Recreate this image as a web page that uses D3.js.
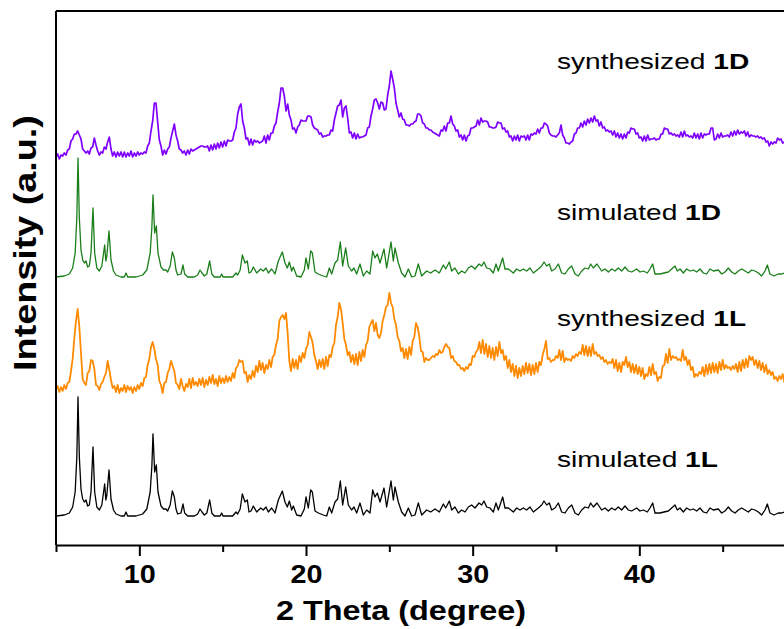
<!DOCTYPE html>
<html>
<head>
<meta charset="utf-8">
<script src="https://cdn.jsdelivr.net/npm/d3@7/dist/d3.min.js"></script>
<style>
  html, body { margin: 0; padding: 0; background: #fff; }
  svg { display: block; font-family: "Liberation Sans", Arial, sans-serif; }
</style>
</head>
<body>
<div id="chart"></div>
<script>
// simulated pattern (same for 1D and 1L): [2theta, intensity above own baseline]
const simulated = [
  [5.0,1],[5.5,2],[5.8,4],[6.0,10],[6.15,25],[6.25,60],[6.32,120],[6.4,60],[6.5,28],[6.6,18],[6.7,15],[6.8,17],[6.9,11],
  [7.0,12],[7.1,25],[7.22,70],[7.32,25],[7.45,10],[7.6,7],[7.75,12],[7.92,33],[7.99,17],[8.05,22],[8.18,47],[8.3,18],
  [8.45,7],[8.6,3],[8.9,1],[9.1,1],[9.2,5],[9.3,1],[9.8,1],[10.2,3],[10.45,8],[10.65,25],[10.75,50],[10.82,83],[10.92,45],
  [11.02,52],[11.12,25],[11.3,11],[11.45,8],[11.6,8],[11.7,6],[11.85,12],[11.98,26],[12.1,20],[12.2,8],[12.3,3],[12.5,4],
  [12.62,13],[12.72,4],[12.9,1],[13.3,1],[13.5,3],[13.64,8],[13.76,5],[13.9,2],[14.05,4],[14.22,17],[14.35,4],[14.5,1],
  [14.85,1],[14.94,4],[15.02,1],[15.6,1],[15.8,5],[15.9,3],[16.05,8],[16.18,23],[16.34,15],[16.48,17],[16.58,5],[16.7,6],
  [16.84,11],[17.04,5],[17.28,9],[17.44,7],[17.6,10],[17.74,5],[17.94,9],[18.14,4],[18.34,17],[18.58,26],[18.74,15],
  [18.88,10],[19.0,16],[19.14,7],[19.24,11],[19.44,2],[19.7,1],[19.9,8],[20.0,20],[20.14,9],[20.28,27],[20.38,25],
  [20.54,6],[20.74,4],[21.04,2],[21.24,1],[21.4,10],[21.54,4],[21.74,15],[21.9,18],[22.06,36],[22.2,12],[22.38,30],
  [22.54,12],[22.74,7],[22.88,10],[23.04,4],[23.24,14],[23.44,2],[23.64,7],[23.84,4],[24.0,27],[24.14,20],[24.28,24],
  [24.44,15],[24.68,29],[24.84,10],[25.1,36],[25.24,17],[25.34,30],[25.54,15],[25.74,5],[25.94,1],[26.14,9],[26.34,1],
  [26.54,2],[26.74,14],[26.94,2],[27.24,7],[27.48,5],[27.74,8],[28.0,5],[28.24,13],[28.38,9],[28.6,16],[28.74,7],
  [28.94,10],[29.14,4],[29.34,7],[29.54,5],[29.74,10],[29.94,12],[30.14,9],[30.38,14],[30.54,12],[30.68,16],[30.84,10],
  [31.04,9],[31.24,5],[31.4,14],[31.54,7],[31.8,20],[31.94,9],[32.14,9],[32.44,5],[32.64,9],[32.84,7],[33.04,9],
  [33.24,7],[33.44,10],[33.64,5],[33.94,9],[34.14,12],[34.28,16],[34.44,12],[34.6,14],[34.74,7],[34.94,9],[35.14,14],
  [35.34,5],[35.54,4],[35.74,9],[35.94,12],[36.14,4],[36.34,2],[36.54,7],[36.74,10],[36.94,9],[37.08,14],[37.24,10],
  [37.46,14],[37.74,7],[37.94,9],[38.14,6],[38.34,9],[38.54,7],[38.74,10],[38.94,7],[39.14,11],[39.34,7],[39.54,6],
  [39.84,9],[40.04,6],[40.24,7],[40.48,5],[40.64,9],[40.8,14],[40.94,4],[41.24,4],[41.48,5],[41.74,6],[41.94,9],
  [42.14,12],[42.28,7],[42.44,9],[42.64,5],[42.84,9],[43.04,7],[43.24,8],[43.44,6],[43.64,9],[43.84,5],[44.04,4],
  [44.24,9],[44.44,7],[44.74,8],[44.94,4],[45.14,6],[45.34,10],[45.54,6],[45.74,4],[45.94,7],[46.14,9],[46.34,7],
  [46.54,5],[46.74,8],[46.94,7],[47.14,5],[47.34,2],[47.54,7],[47.68,13],[47.84,4],[48.08,2],[48.34,4],[48.54,4],
  [48.74,5],[49.0,4],[49.4,6],[50.0,4]
];

// measured patterns, one value every 0.1 degree starting at 5.0
const expStart = 5.0;
const expStep = 0.1;
const synth1L = [
  5,9,3,8,4,10,6,12,13,24, 36,57,74,86,68,42,16,12,10,22, 24,35,34,26,10,9,5,11,13,18,
  22,34,25,15,7,9,3,10,2,7, 4,10,3,9,5,8,2,8,4,10, 6,12,9,17,18,30,36,48,53,46,
  36,30,14,10,2,12,13,22,26,34, 29,24,12,10,6,16,9,4,11,8, 16,7,17,10,13,9,16,10,17,8,
  15,10,18,12,20,11,16,9,19,12, 17,12,19,13,18,14,22,17,27,29, 35,33,34,22,23,13,20,16,24,18,
  29,23,34,25,32,22,30,26,35,28, 38,40,50,56,74,78,80,76,82,62, 34,24,36,27,35,26,39,33,42,37,
  46,50,63,58,52,40,34,26,35,28, 36,26,38,29,40,38,48,52,70,78, 92,86,72,56,50,40,43,33,40,31,
  41,30,43,34,45,38,50,54,68,72, 75,64,72,60,57,62,74,80,88,90, 102,92,88,76,70,58,54,44,47,37,
  46,36,48,40,54,58,72,68,58,44, 43,33,37,35,35,37,39,38,41,40, 45,42,43,48,51,48,47,37,39,34,
  33,30,30,26,27,24,28,26,31,30, 39,38,43,45,53,42,55,41,51,38, 49,37,47,35,48,39,53,42,45,35,
  39,27,35,23,31,19,29,17,27,19, 29,21,32,22,31,20,30,21,32,23, 33,30,40,46,54,36,37,33,35,35,
  39,37,45,35,44,33,37,35,36,34, 39,37,41,39,43,41,50,40,49,39, 48,39,51,41,43,39,40,36,38,33,
  35,31,33,32,36,27,35,24,32,23, 33,30,38,28,33,23,31,22,30,21, 28,19,27,16,21,19,28,20,31,21,
  23,14,18,17,29,30,41,32,46,35, 39,37,38,35,36,34,45,35,38,30, 35,25,28,18,21,19,23,21,28,19,
  30,21,31,22,32,23,31,22,33,25, 35,26,30,27,28,25,29,26,31,23, 33,24,35,27,36,28,39,35,38,30,
  35,27,34,25,32,23,30,21,25,20, 23,16,18,14,19,16,21,13,21,14, 18
];
const synth1D = [
  3,6,1,5,4,7,5,10,11,19, 21,26,26,29,25,21,11,9,7,9, 6,12,13,22,15,9,5,8,7,13,
  11,18,23,11,4,8,3,8,4,8, 3,8,3,7,4,9,3,7,4,8, 5,7,6,8,7,14,17,29,39,57,
  57,38,20,14,5,10,6,11,13,22, 29,36,25,19,11,10,7,9,5,10, 6,11,9,10,11,12,13,14,14,13,
  13,14,9,15,10,16,11,17,12,18, 13,19,14,20,19,19,20,28,32,46, 53,56,39,32,21,22,15,21,15,20,
  18,19,17,18,19,24,17,25,20,27, 27,34,37,48,57,72,72,64,49,56, 45,40,31,32,27,33,35,40,39,39,
  39,44,44,43,35,32,31,30,26,27, 23,24,24,25,25,30,29,40,47,54, 55,60,43,52,54,42,27,28,22,27,
  21,26,22,23,23,24,25,32,33,44, 51,60,61,57,51,58,57,50,51,65, 74,89,81,72,57,50,43,47,41,40,
  35,35,34,36,36,38,39,46,46,44, 37,36,32,32,30,30,28,27,26,25, 24,30,29,34,29,37,37,44,36,34,
  29,30,23,25,20,25,19,24,25,32, 32,33,34,40,35,42,38,39,39,38, 33,33,32,32,33,38,37,37,31,32,
  28,29,23,24,19,24,20,25,19,24, 23,24,20,25,20,26,25,27,26,31, 27,32,32,37,36,34,27,25,24,24,
  23,25,27,35,25,22,17,17,16,18, 19,26,27,32,32,37,33,39,35,41, 37,42,38,44,39,40,34,38,32,33,
  29,30,28,29,25,29,23,27,22,26, 21,26,22,28,27,32,31,31,26,27, 22,23,19,24,19,25,20,21,21,22,
  20,21,21,26,26,32,31,31,26,27, 25,26,24,25,23,28,23,29,24,25, 23,24,22,27,22,26,21,27,22,26,
  25,26,26,32,32,20,21,26,22,27, 23,24,24,25,23,28,24,29,25,30, 26,28,27,29,24,28,23,25,24,24,
  23,24,22,23,21,22,18,19,14,18, 16,18,17,22,20,21,17,18,14,18, 17
];

// stacking (bottom to top) and labels
const traceOffsets = [28, 150, 267, 385];
const traceColors = ["#000000", "#ff8a00", "#1a7f1a", "#7f00ff"];
const labelText = [["simulated ", "1L"], ["synthesized ", "1L"], ["simulated ", "1D"], ["synthesized ", "1D"]];
const labelBaseline = [467, 326, 220, 69];

const xTicks = [10, 20, 30, 40];
const xMinorTicks = [5, 15, 25, 35, 45];

const width = 784, height = 629;
const margin = { top: 11, left: 56, bottom: 84 };
const plotRight = 806;

const svg = d3.select("#chart").append("svg")
  .attr("width", width)
  .attr("height", height);

const x = d3.scaleLinear().domain([5, 50]).range([margin.left, plotRight]);
const y = d3.scaleLinear().domain([0, 534]).range([height - margin.bottom, margin.top]);

const line = d3.line()
  .x(d => x(d[0]))
  .y(d => y(d[1]));

function expPoints(vals, off) {
  return vals.map((v, i) => [expStart + i * expStep, v + off]);
}

const series = [
  simulated.map(d => [d[0], d[1] + traceOffsets[0]]),
  expPoints(synth1L, traceOffsets[1]),
  simulated.map(d => [d[0], d[1] + traceOffsets[2]]),
  expPoints(synth1D, traceOffsets[3])
];
const strokeW = [1.3, 1.8, 1.3, 1.7];

const plot = svg.append("g");
series.forEach((s, i) => {
  plot.append("path")
    .datum(s)
    .attr("fill", "none")
    .attr("stroke", traceColors[i])
    .attr("stroke-width", strokeW[i])
    .attr("stroke-linejoin", "round")
    .attr("d", line);
});

// frame: top and left
svg.append("line")
  .attr("x1", margin.left).attr("x2", plotRight)
  .attr("y1", margin.top).attr("y2", margin.top)
  .attr("stroke", "#000").attr("stroke-width", 2);
svg.append("line")
  .attr("x1", margin.left).attr("x2", margin.left)
  .attr("y1", margin.top).attr("y2", height - margin.bottom)
  .attr("stroke", "#000").attr("stroke-width", 2);

// bottom axis
const xAxis = svg.append("g")
  .attr("transform", `translate(0,${height - margin.bottom})`)
  .call(d3.axisBottom(x).tickValues(xTicks).tickSize(11).tickSizeOuter(0).tickPadding(9).tickFormat(d3.format("d")));
xAxis.select(".domain").attr("stroke-width", 2);
xAxis.selectAll(".tick line").attr("stroke-width", 2);
xAxis.selectAll(".tick text")
  .attr("font-size", 25)
  .attr("font-weight", "bold")
  .attr("font-family", "Liberation Sans, Arial, sans-serif")
  .attr("transform", "scale(1.15,1)");

const xMinor = svg.append("g")
  .attr("transform", `translate(0,${height - margin.bottom})`)
  .call(d3.axisBottom(x).tickValues(xMinorTicks).tickSize(7).tickSizeOuter(0).tickFormat(""));
xMinor.select(".domain").remove();
xMinor.selectAll(".tick line").attr("stroke-width", 2);

// axis titles (text in the picture is a little wider than the font, so stretch it)
svg.append("text")
  .attr("transform", `translate(401,620) scale(1.2,1)`)
  .attr("text-anchor", "middle")
  .attr("font-size", 27)
  .attr("font-weight", "bold")
  .text("2 Theta (degree)");

svg.append("text")
  .attr("transform", `translate(36,243) rotate(-90) scale(1.18,1)`)
  .attr("text-anchor", "middle")
  .attr("font-size", 32)
  .attr("font-weight", "bold")
  .text("Intensity (a.u.)");

// trace labels
labelText.forEach((t, i) => {
  const txt = svg.append("text")
    .attr("transform", `translate(557,${labelBaseline[i]}) scale(1.25,1)`)
    .attr("font-size", 22.5);
  txt.append("tspan").text(t[0]);
  txt.append("tspan").attr("font-weight", "bold").text(t[1]);
});
</script>
</body>
</html>
